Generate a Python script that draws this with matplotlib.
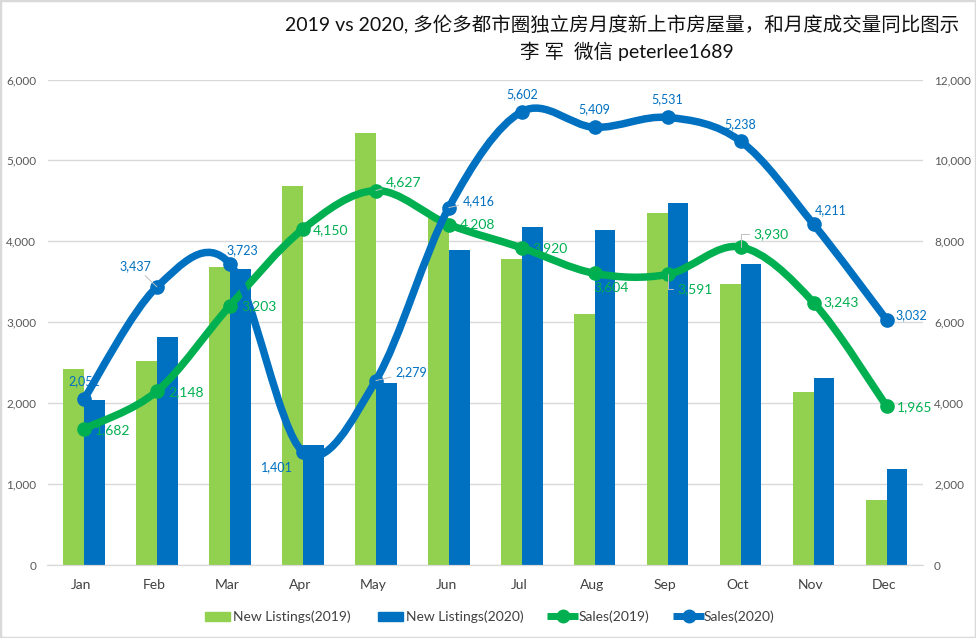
import numpy as np
import matplotlib
matplotlib.use("Agg")
import matplotlib.pyplot as plt
from matplotlib.lines import Line2D
from matplotlib.patches import Patch, PathPatch, Rectangle
from matplotlib.path import Path
from matplotlib.legend_handler import HandlerLine2D
from matplotlib.transforms import ScaledTranslation

plt.rcParams['font.family'] = ['Lato', 'Noto Sans CJK SC', 'DejaVu Sans']

months = ['Jan', 'Feb', 'Mar', 'Apr', 'May', 'Jun', 'Jul', 'Aug', 'Sep', 'Oct', 'Nov', 'Dec']

# bars read against the right axis
listings_2019 = [4840, 5040, 7370, 9370, 10680, 8575, 7570, 6200, 8710, 6945, 4276, 1607]
listings_2020 = [4080, 5635, 7315, 2966, 4498, 7785, 8355, 8280, 8947, 7440, 4622, 2373]

# lines use the left axis
sales_2019 = [1682, 2148, 3203, 4150, 4627, 4208, 3920, 3604, 3591, 3930, 3243, 1965]
sales_2020 = [2051, 3437, 3723, 1401, 2279, 4416, 5602, 5409, 5531, 5238, 4211, 3032]

# label offsets from the marker, in pixels
offsets_2019 = [(29, -1), (29, -1), (29, 0), (28, -1), (28, 8), (29, 0),
                (28, 0), (16, -14), (27, -15), (30, 13), (28, 0), (28, -1)]
offsets_2020 = [(0, 18), (-22, 21), (12, 14), (-26, -16), (35, 8), (30, 7),
                (0, 18), (0, 18), (0, 18), (0, 17), (17, 14), (25, 5)]

GREEN_BAR = '#92d050'
BLUE = '#0070c0'
GREEN = '#00b050'
GRID = '#d9d9d9'
W, H = 976, 638


def smooth_path(xs, ys):
    # same kind of bezier smoothing a spreadsheet uses for "smoothed line"
    pts = np.column_stack([xs, ys]).astype(float)
    verts = [pts[0]]
    codes = [Path.MOVETO]
    for i in range(len(pts) - 1):
        before = pts[max(i - 1, 0)]
        after = pts[min(i + 2, len(pts) - 1)]
        verts += [pts[i] + (pts[i + 1] - before) / 6,
                  pts[i + 1] - (after - pts[i]) / 6,
                  pts[i + 1]]
        codes += [Path.CURVE4] * 3
    return Path(verts, codes)


class WideLineHandler(HandlerLine2D):
    # line handles stick out a little past the bar swatches
    def get_xdata(self, legend, xdescent, ydescent, width, height, fontsize):
        xdata = [-xdescent - 2.2, -xdescent + width + 2.2]
        return xdata, [-xdescent + width / 2]


fig = plt.figure(figsize=(W / 100, H / 100), dpi=100)
ax = fig.add_axes([47.5 / W, 1 - 565 / H, (923 - 47.5) / W, (565 - 79.5) / H])
ax2 = ax.twinx()
ax.set_zorder(ax2.get_zorder() + 1)
ax.patch.set_visible(False)

x = np.arange(len(months))
ax2.bar(x - 0.285, listings_2019, width=0.285, align='edge', color=GREEN_BAR)
ax2.bar(x, listings_2020, width=0.285, align='edge', color=BLUE)
ax2.set_ylim(0, 12000)
ax2.set_yticks(range(0, 12001, 2000))
ax2.yaxis.set_major_formatter(matplotlib.ticker.StrMethodFormatter('{x:,.0f}'))
ax2.grid(axis='y', color=GRID, lw=1)
ax2.set_axisbelow(True)

ax.set_xlim(-0.5, 11.5)
ax.set_ylim(0, 6000)
ax.set_yticks(range(0, 6001, 1000))
ax.yaxis.set_major_formatter(matplotlib.ticker.StrMethodFormatter('{x:,.0f}'))
ax.set_xticks(x)
ax.set_xticklabels(months)

for a in (ax, ax2):
    for name, spine in a.spines.items():
        spine.set_visible(name == 'bottom')
    a.spines['bottom'].set_color(GRID)
    a.tick_params(length=0, labelsize=8.5, labelcolor='#595959', pad=8)
ax.tick_params(axis='x', labelsize=10, labelcolor='#404040', pad=10)
for label in ax.get_xticklabels():
    label.set_transform(label.get_transform() + ScaledTranslation(-2.5 / 100, 0, fig.dpi_scale_trans))

for values, colour, z in ((sales_2019, GREEN, 3), (sales_2020, BLUE, 4)):
    ax.add_patch(PathPatch(smooth_path(x, values), fc='none', ec=colour, lw=5.4,
                           capstyle='round', zorder=z))
    ax.plot(x, values, ls='none', marker='o', ms=9.5, color=colour, zorder=z)

# leader lines: index -> connection style
leaders_2019 = {4: 'arc3', 8: 'angle,angleA=0,angleB=90,rad=0', 9: 'angle,angleA=0,angleB=90,rad=0'}
leaders_2020 = {1: 'arc3', 4: 'arc3', 5: 'arc3'}

for values, offsets, leaders, colour, size in (
        (sales_2019, offsets_2019, leaders_2019, GREEN, 10),
        (sales_2020, offsets_2020, leaders_2020, BLUE, 9)):
    for i, v in enumerate(values):
        arrow = None
        if i in leaders:
            arrow = dict(arrowstyle='-', color='#bfbfbf', lw=0.7, shrinkA=1, shrinkB=0,
                         connectionstyle=leaders[i])
        ax.annotate(f'{v:,}', xy=(i, v), xytext=offsets[i], textcoords='offset pixels',
                    ha='center', va='center', color=colour, fontsize=size,
                    arrowprops=arrow, zorder=6)

fig.text(622 / W, 1 - 25 / H, '2019 vs 2020, 多伦多都市圈独立房月度新上市房屋量，和月度成交量同比图示',
         ha='center', va='center', fontsize=14, color='#111111')
fig.text(627 / W, 1 - 51 / H, '李 军  微信 peterlee1689',
         ha='center', va='center', fontsize=14, color='#111111')

handles = [Patch(color=GREEN_BAR, label='New Listings(2019)'),
           Patch(color=BLUE, label='New Listings(2020)'),
           Line2D([], [], color=GREEN, lw=5, marker='o', ms=9, solid_capstyle='butt', label='Sales(2019)'),
           Line2D([], [], color=BLUE, lw=5, marker='o', ms=9, solid_capstyle='butt', label='Sales(2020)')]
fig.legend(handles=handles, ncol=4, loc='center', bbox_to_anchor=(490 / W, 1 - 617 / H),
           frameon=False, fontsize=10, handlelength=1.8, handleheight=0.7,
           handletextpad=0.2, columnspacing=1.95, labelcolor='#404040',
           handler_map={Line2D: WideLineHandler(numpoints=1)})

fig.add_artist(Rectangle((0, 0), 1, 1, transform=fig.transFigure, fc='none', ec=GRID, lw=2.5))

fig.savefig('out.png', dpi=100)
